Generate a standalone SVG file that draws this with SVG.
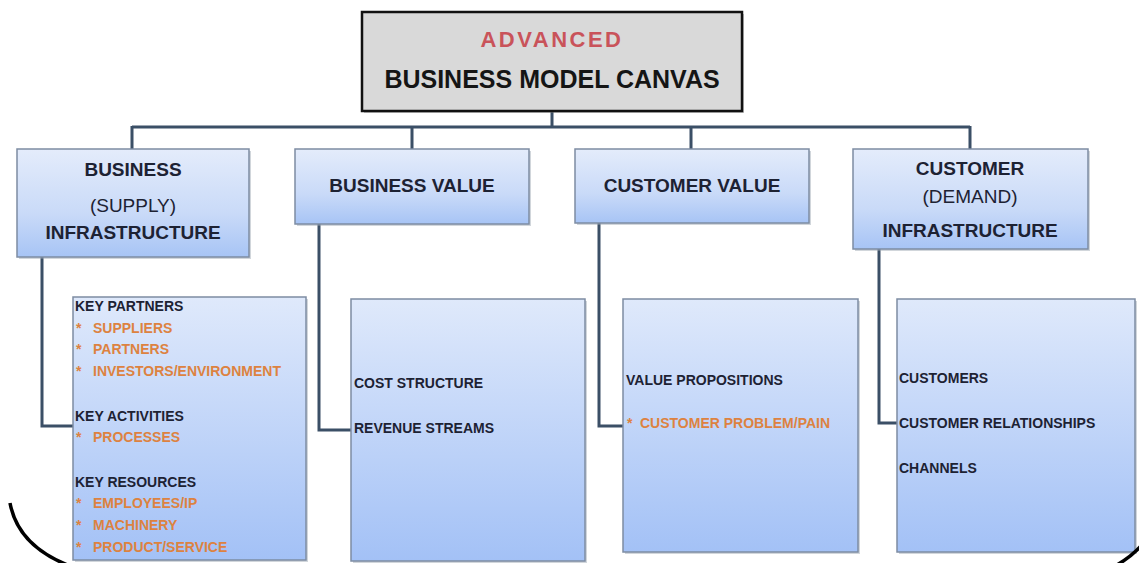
<svg xmlns="http://www.w3.org/2000/svg" width="1139" height="563" viewBox="0 0 1139 563">
<defs>
<linearGradient id="gHead" x1="0" y1="0" x2="0" y2="1">
<stop offset="0" stop-color="#e4ecfb"/>
<stop offset="0.6" stop-color="#c9daf8"/>
<stop offset="1" stop-color="#a7c4f5"/>
</linearGradient>
<linearGradient id="gBody" x1="0" y1="0" x2="0" y2="1">
<stop offset="0" stop-color="#dfe9fb"/>
<stop offset="1" stop-color="#a3c1f6"/>
</linearGradient>
<style>
.box{fill:url(#gHead);stroke:#7d8ca3;stroke-width:1.5}
.body{fill:url(#gBody);stroke:#7d8ca3;stroke-width:1.5}
.sh{fill:#9aa3b0;opacity:0.45}
.hd{font-family:"Liberation Sans",Arial,sans-serif;font-weight:bold;font-size:19px;fill:#1d2233;text-anchor:middle}
.hr{font-family:"Liberation Sans",Arial,sans-serif;font-size:19px;fill:#1d2233;text-anchor:middle}
.t{font-family:"Liberation Sans",Arial,sans-serif;font-weight:bold;font-size:14px;fill:#1d2233}
.o{font-family:"Liberation Sans",Arial,sans-serif;font-weight:bold;font-size:14px;fill:#dd8240}
.ln{fill:none;stroke:#3b4f66;stroke-width:3}
.arc{fill:none;stroke:#000;stroke-width:3.5}
</style>
</defs>
<rect width="1139" height="563" fill="#ffffff"/>

<g id="connectors">
<path class="ln" d="M552 111 V127 M132 127 H970 M132 126 V149 M412 126 V149 M691 126 V149 M970 126 V149"/>
<path class="ln" d="M42 257 V426 H73"/>
<path class="ln" d="M319 224 V430 H351"/>
<path class="ln" d="M599 223 V426 H623"/>
<path class="ln" d="M879 249 V423 H897"/>
</g>

<g id="title">
<rect x="364" y="14" width="380" height="99" fill="#8a8a8a" opacity="0.5"/>
<rect x="362" y="12" width="380" height="99" fill="#d9d9d9" stroke="#111" stroke-width="2.5"/>
<text x="552" y="47" text-anchor="middle" font-family="'Liberation Sans',Arial,sans-serif" font-weight="bold" font-size="22" letter-spacing="2.5" fill="#c9535a">ADVANCED</text>
<text x="552" y="88" text-anchor="middle" font-family="'Liberation Sans',Arial,sans-serif" font-weight="bold" font-size="25" fill="#151515">BUSINESS MODEL CANVAS</text>
</g>

<g id="business-infrastructure">
<rect class="sh" x="19" y="151" width="232" height="108"/>
<rect class="box" x="17" y="149" width="232" height="108"/>
<text class="hd" x="133" y="176">BUSINESS</text>
<text class="hr" x="133" y="212">(SUPPLY)</text>
<text class="hd" x="133" y="239">INFRASTRUCTURE</text>
</g>

<g id="business-value">
<rect class="sh" x="297" y="151" width="234" height="75"/>
<rect class="box" x="295" y="149" width="234" height="75"/>
<text class="hd" x="412" y="192">BUSINESS VALUE</text>
</g>

<g id="customer-value">
<rect class="sh" x="577" y="151" width="234" height="74"/>
<rect class="box" x="575" y="149" width="234" height="74"/>
<text class="hd" x="692" y="192">CUSTOMER VALUE</text>
</g>

<g id="customer-infrastructure">
<rect class="sh" x="855" y="151" width="235" height="100"/>
<rect class="box" x="853" y="149" width="235" height="100"/>
<text class="hd" x="970" y="175">CUSTOMER</text>
<text class="hr" x="970" y="203">(DEMAND)</text>
<text class="hd" x="970" y="237">INFRASTRUCTURE</text>
</g>

<g id="business-details">
<rect class="sh" x="75" y="299" width="233" height="263"/>
<rect class="body" x="73" y="297" width="233" height="263"/>
<text class="t" x="75" y="311">KEY PARTNERS</text>
<text class="o" x="76" y="333">*<tspan x="93">SUPPLIERS</tspan></text>
<text class="o" x="76" y="354">*<tspan x="93">PARTNERS</tspan></text>
<text class="o" x="76" y="376">*<tspan x="93">INVESTORS/ENVIRONMENT</tspan></text>
<text class="t" x="75" y="421">KEY ACTIVITIES</text>
<text class="o" x="76" y="442">*<tspan x="93">PROCESSES</tspan></text>
<text class="t" x="75" y="487">KEY RESOURCES</text>
<text class="o" x="76" y="508">*<tspan x="93">EMPLOYEES/IP</tspan></text>
<text class="o" x="76" y="530">*<tspan x="93">MACHINERY</tspan></text>
<text class="o" x="76" y="552">*<tspan x="93">PRODUCT/SERVICE</tspan></text>
</g>

<g id="business-value-details">
<rect class="sh" x="353" y="301" width="234" height="262"/>
<rect class="body" x="351" y="299" width="234" height="262"/>
<text class="t" x="354" y="388">COST STRUCTURE</text>
<text class="t" x="354" y="433">REVENUE STREAMS</text>
</g>

<g id="customer-value-details">
<rect class="sh" x="625" y="301" width="235" height="253"/>
<rect class="body" x="623" y="299" width="235" height="253"/>
<text class="t" x="626" y="385">VALUE PROPOSITIONS</text>
<text class="o" x="627" y="428">*<tspan x="640">CUSTOMER PROBLEM/PAIN</tspan></text>
</g>

<g id="customer-details">
<rect class="sh" x="899" y="301" width="238" height="253"/>
<rect class="body" x="897" y="299" width="238" height="253"/>
<text class="t" x="899" y="383">CUSTOMERS</text>
<text class="t" x="899" y="428">CUSTOMER RELATIONSHIPS</text>
<text class="t" x="899" y="473">CHANNELS</text>
</g>

<path class="arc" d="M10 503 Q18 546 70 566"/>
<path class="arc" d="M1115 566 Q1130 558 1141 546"/>
</svg>
